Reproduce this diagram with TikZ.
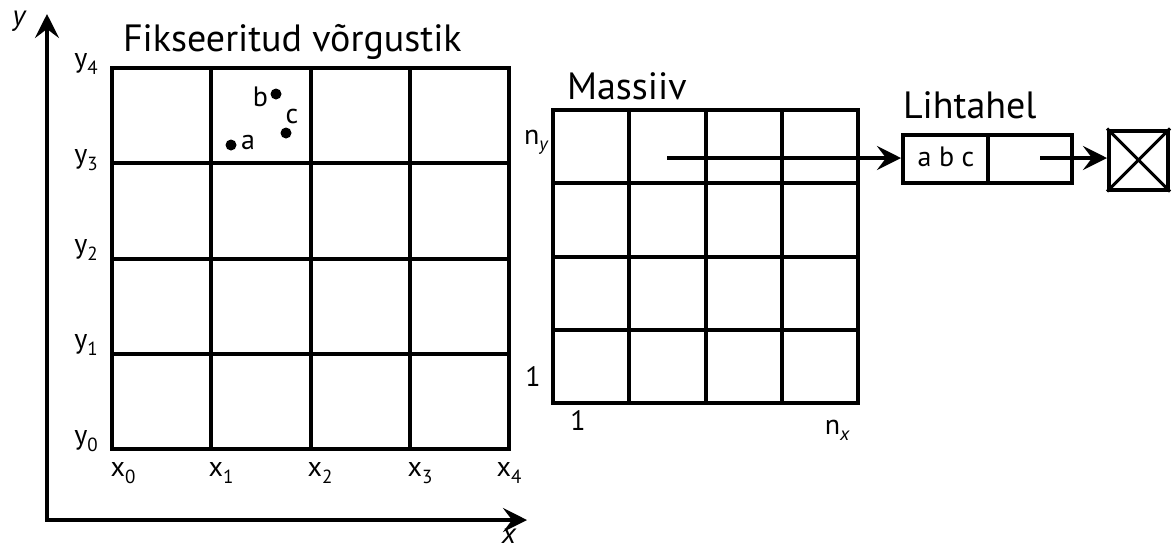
\documentclass[tikz,border=0pt]{standalone}
\usepackage{fontspec}
\setmainfont{PT Sans}
\usetikzlibrary{arrows.meta}
\newcommand\lblsub[1]{\raisebox{-0.45ex}{\fontsize{19}{19}\selectfont #1}}
\begin{document}
\begin{tikzpicture}[x=1pt,y=-1pt,line width=4pt,
  arr/.style={-{Stealth[length=24pt,width=24pt,inset=9pt]}},
  lbl/.style={font=\fontsize{28}{28}\selectfont,inner sep=0pt},
  ttl/.style={font=\fontsize{38}{38}\selectfont,inner sep=0pt,anchor=west},
  axlbl/.style={font=\fontsize{29}{29}\selectfont\itshape,inner sep=0pt},
  dot/.style={circle,fill,inner sep=0pt,minimum size=11pt}]
\useasboundingbox (0,0) rectangle (1172,550);
% axes
\coordinate (O) at (47,520);
\coordinate (Ytip) at (47,14);
\coordinate (Xtip) at (527,520);
\draw[arr] (O) -- (Ytip);
\draw[arr] ([xshift=-2pt]O) -- (Xtip);
\node[axlbl] (ylab) at (19,21) {y};
\node[axlbl] (xlab) at (509,536) {x};
% fixed grid
\foreach \x in {112,211.25,310.5,409.75,509} \draw (\x,68) -- (\x,449);
\foreach \y in {68,163.25,258.5,353.75,449} \draw (110,\y) -- (511,\y);
\node[ttl] (title1) at (121,42) {Fikseeritud võrgustik};
\foreach \i/\y in {4/64,3/160,2/250,1/345,0/441}
  \node[lbl] (y\i) at (86,\y) {y\lblsub{\i}};
\foreach \i/\x in {0/123,1/221,2/320,3/420,4/509}
  \node[lbl] (x\i) at (\x,473) {x\lblsub{\i}};
\node[dot] (pa) at (231,145) {};
\node[dot] (pb) at (276,94) {};
\node[dot] (pc) at (286,133) {};
\node[lbl,anchor=west] (la) at (239,142) {a};
\node[lbl,anchor=east] (lb) at (270,97) {b};
\node[lbl] (lc) at (292,116) {c};
% array
\foreach \x in {553,629.25,705.5,781.75,858} \draw (\x,110) -- (\x,403);
\foreach \y in {110,183.25,256.5,329.75,403} \draw (551,\y) -- (860,\y);
\node[ttl] (title2) at (565,86) {Massiiv};
\node[lbl] (ny) at (536,142) {n\lblsub{\itshape y}};
\node[lbl] (one1) at (533,377) {1};
\node[lbl] (one2) at (578,421) {1};
\node[lbl] (nx) at (837,430) {n\lblsub{\itshape x}};
% list
\node[ttl] (title3) at (901,105) {Lihtahel};
\node[draw,minimum width=169pt,minimum height=48pt,inner sep=0pt] (list) at (987.5,159) {};
\draw (988,135) -- (988,183);
\node[lbl] (abc) at (946,157) {a b c};
\node[draw,minimum width=59pt,minimum height=59pt,inner sep=0pt] (nil) at (1138.5,160) {};
\draw[line width=3pt] (nil.north west) -- (nil.south east);
\draw[line width=3pt] (nil.north east) -- (nil.south west);
\coordinate (s1) at (667,158);
\coordinate (s2) at (1040,158);
\draw[arr] (s1) -- (list.west |- s1);
\draw[arr] (s2) -- (nil.west |- s2);
\end{tikzpicture}
\end{document}
